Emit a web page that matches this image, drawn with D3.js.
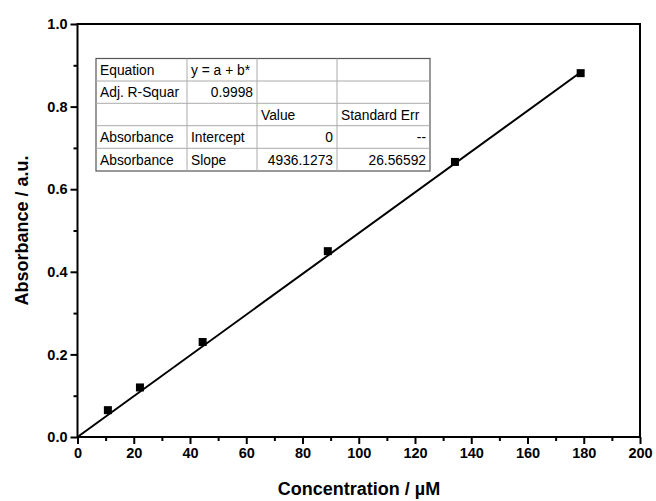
<!DOCTYPE html>
<html>
<head>
<meta charset="utf-8">
<script src="https://cdn.jsdelivr.net/npm/d3@7"></script>
<style>
  body { margin: 0; background: #fff; }
  text { font-family: "Liberation Sans", Arial, sans-serif; }
</style>
</head>
<body>
<div id="chart"></div>
<script>
// measured points: concentration (uM) vs absorbance
const concentration = [10.8, 22.2, 44.5, 89, 134.2, 178.9]
const absorbance = [0.065, 0.12, 0.23, 0.45, 0.666, 0.881]
const slope = 4936.1273e-6   // per uM, from fit
const xTicks = [0, 20, 40, 60, 80, 100, 120, 140, 160, 180, 200]
const yTicks = [0.0, 0.2, 0.4, 0.6, 0.8, 1.0]
const tableRows = [
    ["Equation", "y = a + b*", "", ""],
    ["Adj. R-Squar", "0.9998", "", ""],
    ["", "", "Value", "Standard Err"],
    ["Absorbance", "Intercept", "0", "--"],
    ["Absorbance", "Slope", "4936.1273", "26.56592"]
]

const W = 656, H = 501
const MARGIN = { TOP: 24, BOTTOM: 64, LEFT: 77.5, RIGHT: 16 }
const WIDTH = W - MARGIN.LEFT - MARGIN.RIGHT
const HEIGHT = H - MARGIN.TOP - MARGIN.BOTTOM

const svg = d3.select("#chart").append("svg")
    .attr("width", W).attr("height", H)
const g = svg.append("g")
    .attr("transform", `translate(${MARGIN.LEFT},${MARGIN.TOP})`)

const x = d3.scaleLinear().domain([0, 200]).range([0, WIDTH])
const y = d3.scaleLinear().domain([0, 1]).range([HEIGHT, 0])

// minor ticks
const minorX = d3.range(10, 200, 20)
const minorY = d3.range(0.1, 1, 0.2)
g.append("g").attr("transform", `translate(0,${HEIGHT})`)
    .call(d3.axisBottom(x).tickValues(minorX).tickSize(4).tickFormat(""))
g.append("g")
    .call(d3.axisLeft(y).tickValues(minorY).tickSize(4).tickFormat(""))

g.append("g").attr("transform", `translate(0,${HEIGHT})`)
    .call(d3.axisBottom(x).tickValues(xTicks).tickSize(7).tickPadding(4).tickFormat(d3.format("d")))
g.append("g")
    .call(d3.axisLeft(y).tickValues(yTicks).tickSize(7).tickPadding(3).tickFormat(d3.format(".1f")))

g.selectAll(".domain").remove()
g.selectAll(".tick line").attr("stroke", "#000").attr("stroke-width", 2)
g.selectAll(".tick text")
    .attr("font-family", "'Liberation Sans', Arial, sans-serif")
    .attr("font-size", 14.5).attr("font-weight", "bold").attr("fill", "#000")

// frame
g.append("rect")
    .attr("x", 0).attr("y", 0).attr("width", WIDTH).attr("height", HEIGHT)
    .attr("fill", "none").attr("stroke", "#000").attr("stroke-width", 2)

// fit line, drawn up to the last point
const xMax = d3.max(concentration)
g.append("line")
    .attr("x1", x(0)).attr("y1", y(0))
    .attr("x2", x(xMax)).attr("y2", y(slope * xMax))
    .attr("stroke", "#000").attr("stroke-width", 2)

// points
g.selectAll("rect.pt")
    .data(concentration)
    .enter().append("rect")
        .attr("class", "pt")
        .attr("x", (d) => x(d) - 4)
        .attr("y", (d, i) => y(absorbance[i]) - 4)
        .attr("width", 8).attr("height", 8)
        .attr("fill", "#000")

// fit table
const colX = [96, 187, 257, 337, 430]
const rowY = [58.5, 81, 103.3, 125.7, 148.3, 171]
const tbl = svg.append("g")
tbl.append("rect")
    .attr("x", colX[0]).attr("y", rowY[0])
    .attr("width", colX[4] - colX[0]).attr("height", rowY[5] - rowY[0])
    .attr("fill", "#fff").attr("stroke", "#555").attr("stroke-width", 1.2)
colX.slice(1, 4).forEach(cx => {
    tbl.append("line").attr("x1", cx).attr("x2", cx)
        .attr("y1", rowY[0]).attr("y2", rowY[5]).attr("stroke", "#aaa")
})
rowY.slice(1, 5).forEach(ry => {
    tbl.append("line").attr("y1", ry).attr("y2", ry)
        .attr("x1", colX[0]).attr("x2", colX[4]).attr("stroke", "#aaa")
})
tableRows.forEach((row, r) => {
    row.forEach((txt, c) => {
        if (!txt) return
        // numbers are right-aligned, words left-aligned
        const right = /^[-\d.]+$/.test(txt)
        tbl.append("text")
            .attr("x", right ? colX[c + 1] - 4 : colX[c] + 4)
            .attr("y", (rowY[r] + rowY[r + 1]) / 2 + 5)
            .attr("text-anchor", right ? "end" : "start")
            .attr("font-size", 13.8).attr("fill", "#000")
            .text(txt)
    })
})

// axis titles
svg.append("text")
    .attr("x", 359).attr("y", 495)
    .attr("text-anchor", "middle")
    .attr("font-size", 18).attr("font-weight", "bold")
    .text("Concentration / \u00b5M")
svg.append("text")
    .attr("transform", `translate(28,${MARGIN.TOP + HEIGHT / 2}) rotate(-90)`)
    .attr("text-anchor", "middle")
    .attr("font-size", 18).attr("font-weight", "bold")
    .text("Absorbance / a.u.")
</script>
</body>
</html>
